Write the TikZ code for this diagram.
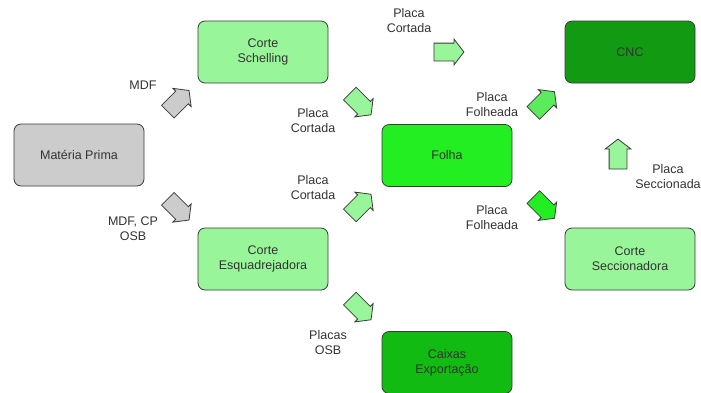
\documentclass[tikz,border=0pt]{standalone}
\usepackage{fontspec}
\setmainfont{Liberation Sans}
\usetikzlibrary{shapes.arrows,calc}

\definecolor{cinza}{HTML}{CCCCCC}
\definecolor{verdeclaro}{HTML}{99F599}
\definecolor{verdemedio}{HTML}{5CEB5C}
\definecolor{verdevivo}{HTML}{22EE22}
\definecolor{verdecaixa}{HTML}{11BB11}
\definecolor{verdeescuro}{HTML}{129A12}
\definecolor{borda}{HTML}{3A3A3A}

\begin{document}
\begin{tikzpicture}
   [x=1pt,y=-1pt,
    every node/.style={font=\fontsize{12.5}{15}\selectfont, text=black!80},
    box/.style={draw=borda, line width=0.8pt, rounded corners=7pt,
                minimum width=130pt, minimum height=62pt, align=center},
    blk/.style={single arrow, draw=borda, line width=0.8pt,
                inner xsep=0pt, inner ysep=8.5pt,
                minimum height=30pt,
                single arrow head extend=4pt, single arrow tip angle=105},
    lbl/.style={align=center, inner sep=0pt}]

\useasboundingbox (0,0) rectangle (701,392);

% Boxes
\node[box, fill=cinza] (mp) at (79,155) {Matéria Prima};
\node[box, fill=verdeclaro] (schelling) at (263,52) {Corte\\Schelling};
\node[box, fill=verdeescuro] (cnc) at (630,52) {CNC};
\node[box, fill=verdevivo] (folha) at (447,155.5) {Folha};
\node[box, fill=verdeclaro] (esq) at (263,259) {Corte\\Esquadrejadora};
\node[box, fill=verdeclaro] (secc) at (630,259) {Corte\\Seccionadora};
\node[box, fill=verdecaixa] (caixas) at (447,362.5) {Caixas\\Exportação};

% Block arrows between boxes
\node[blk, fill=cinza, rotate=45] (a_mdf) at ($(mp)!0.5!(schelling)+(5,0)$) {};
\node[blk, fill=cinza, rotate=-45] (a_cp) at ($(mp)!0.5!(esq)+(5,0)$) {};
\node[blk, fill=verdeclaro, rotate=-45] (a_sf) at ($(schelling)!0.5!(folha)+(3,-2)$) {};
\node[blk, fill=verdeclaro] (a_sc) at ($(schelling)!0.5!(cnc)+(-1,0)$) {};
\node[blk, fill=verdemedio, rotate=45] (a_fc) at ($(folha)!0.5!(cnc)+(3,1)$) {};
\node[blk, fill=verdeclaro, rotate=90] (a_scc) at ($(secc)!0.5!(cnc)+(-12,2)$) {};
\node[blk, fill=verdevivo, rotate=-45] (a_fs) at ($(folha)!0.5!(secc)+(3,-2)$) {};
\node[blk, fill=verdeclaro, rotate=45] (a_ef) at ($(esq)!0.5!(folha)+(3,0)$) {};
\node[blk, fill=verdeclaro, rotate=-45] (a_ec) at ($(esq)!0.5!(caixas)+(3,-4)$) {};

% Labels
\node[lbl] (l_mdf) at (143,85) {MDF};
\node[lbl] (l_cp) at (133,229) {MDF, CP\\OSB};
\node[lbl] (l_sf) at (313,121) {Placa\\Cortada};
\node[lbl] (l_sc) at (409,21) {Placa\\Cortada};
\node[lbl] (l_fc) at (492,105) {Placa\\Folheada};
\node[lbl] (l_scc) at (668,177) {Placa\\Seccionada};
\node[lbl] (l_fs) at (492,218) {Placa\\Folheada};
\node[lbl] (l_ef) at (313,188) {Placa\\Cortada};
\node[lbl] (l_ec) at (328,343) {Placas\\OSB};

\end{tikzpicture}
\end{document}
